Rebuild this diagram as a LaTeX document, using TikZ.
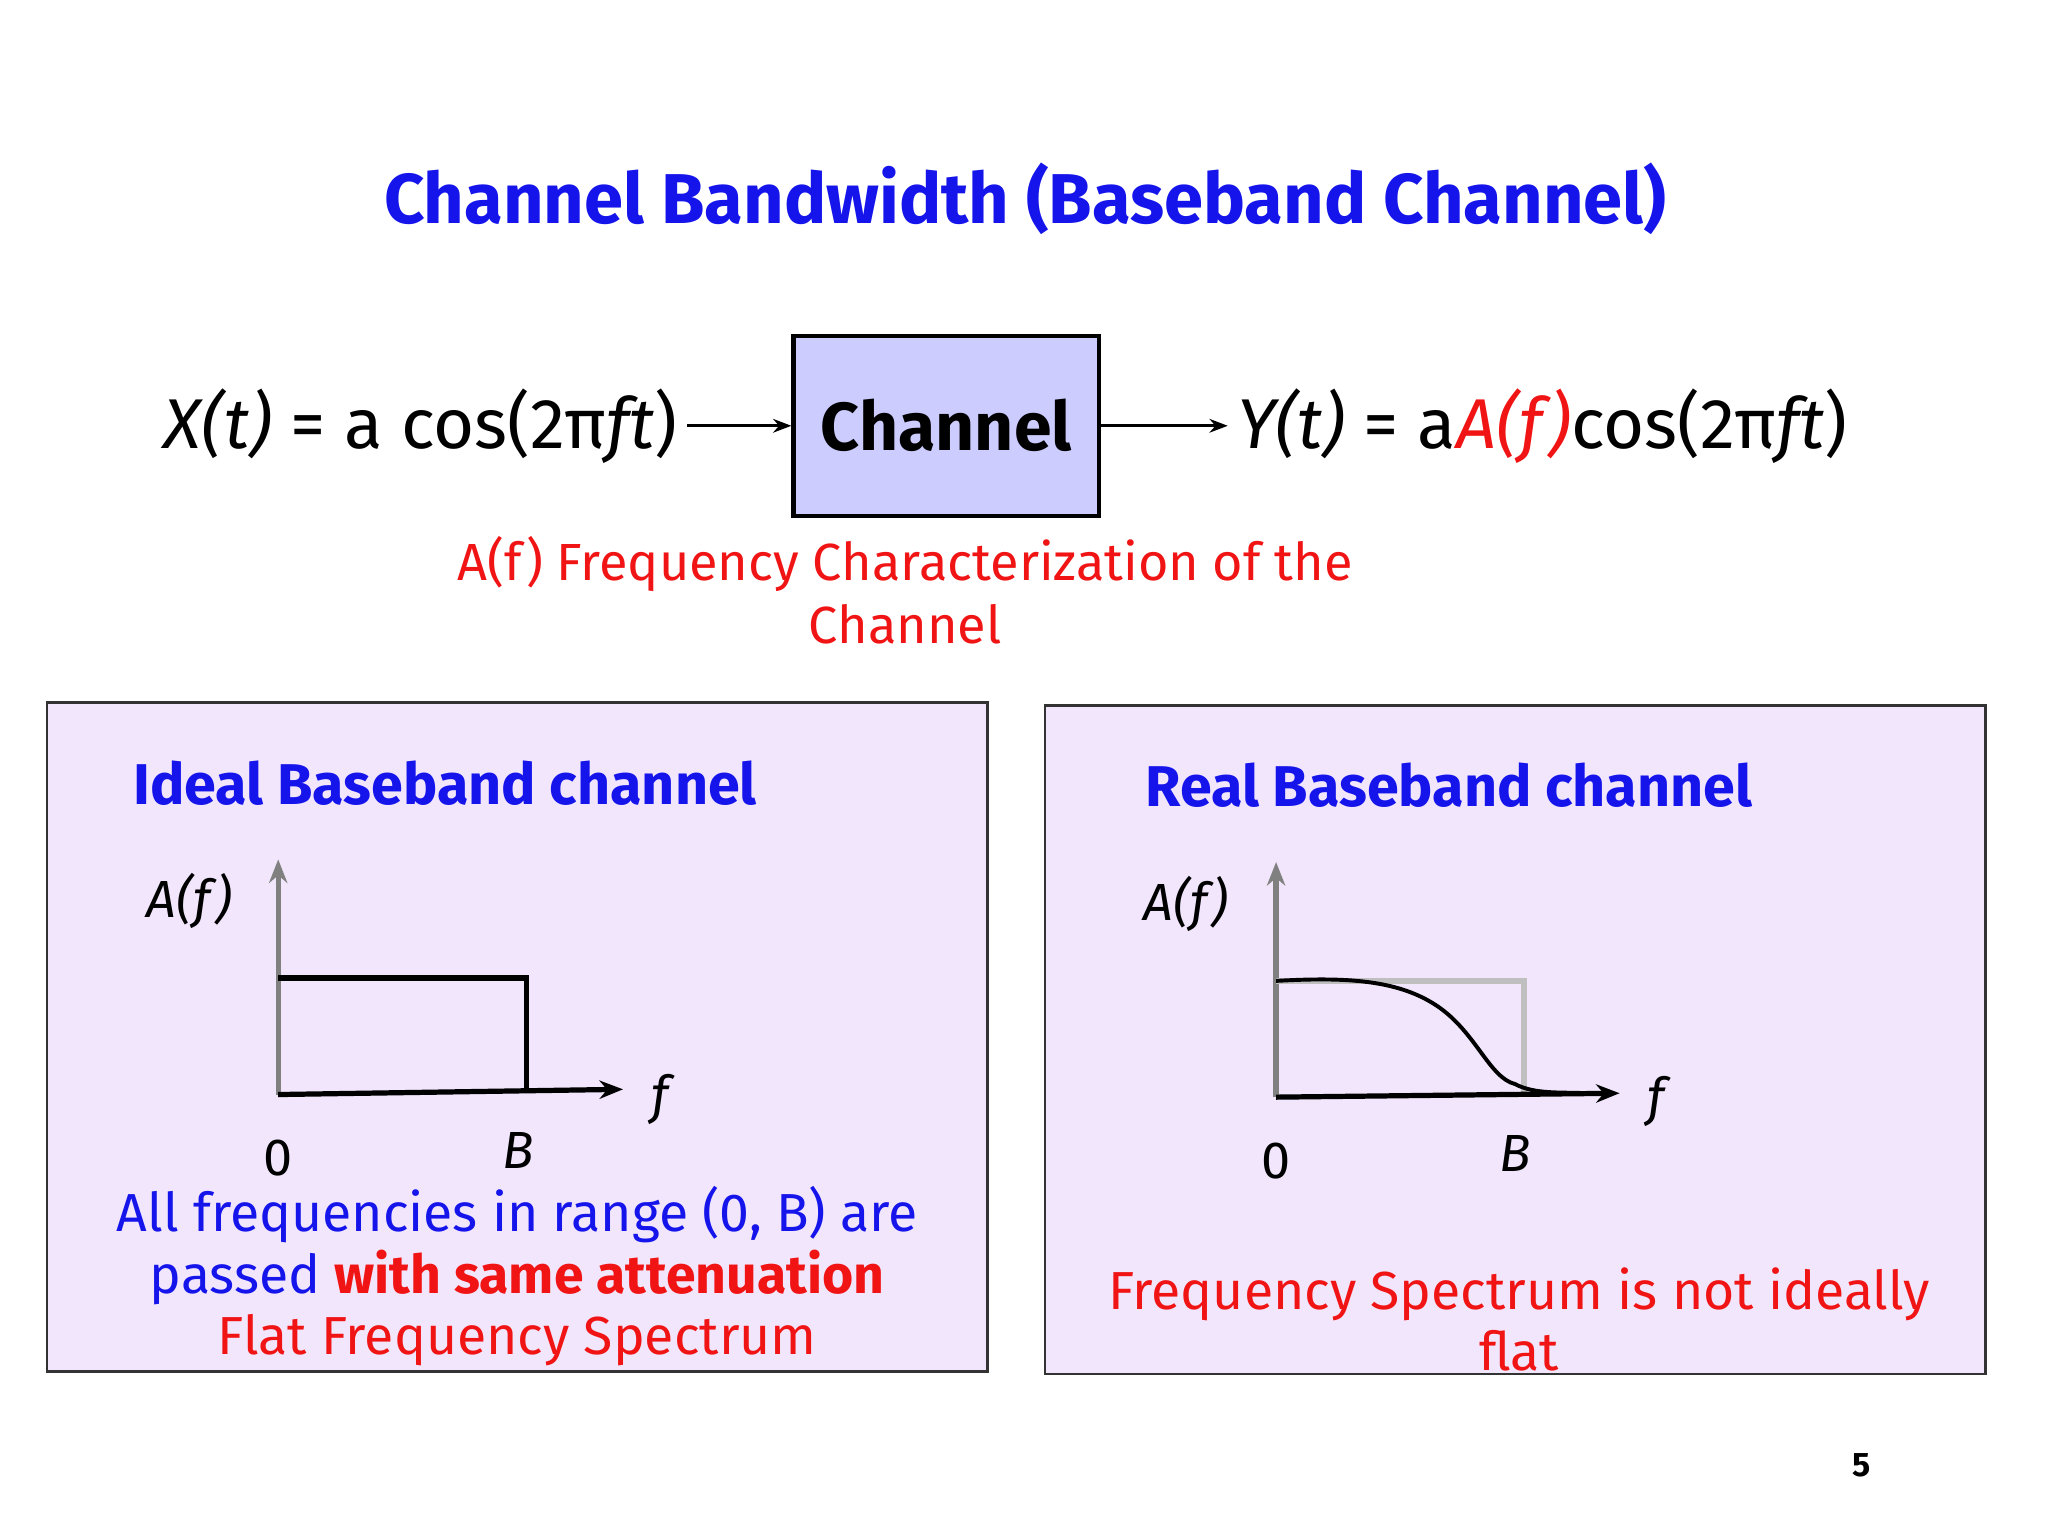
\documentclass[tikz,border=0pt]{standalone}
\usepackage{fontspec}
\setmainfont{Fira Sans}
\usetikzlibrary{arrows.meta}
\definecolor{tblue}{RGB}{20,20,235}
\definecolor{tred}{RGB}{240,20,20}
\definecolor{boxfill}{RGB}{242,230,252}
\definecolor{chfill}{RGB}{204,204,255}
\tikzset{
 panel/.style={draw=black!80,fill=boxfill,line width=1pt},
 ax/.style={line width=2pt,-{Stealth[length=9pt,width=7pt]}},
 lbl/.style={font=\fontsize{20}{24}\selectfont\itshape},
 num/.style={font=\fontsize{20}{24}\selectfont},
 ptitle/.style={text=tblue,font=\fontsize{22}{26}\selectfont\bfseries,anchor=west},
 eq/.style={font=\fontsize{27}{32}\selectfont},
 captxt/.style={font=\fontsize{20}{24}\selectfont,align=center},
}
\begin{document}
\begin{tikzpicture}[x=0.5pt,y=-0.5pt]
\useasboundingbox (0,0) rectangle (1568,1176);
\node[text=tblue,font=\fontsize{27}{32}\selectfont\bfseries] (title) at (785,152) {Channel Bandwidth (Baseband Channel)};
\node[draw,line width=1.6pt,fill=chfill,minimum width=117pt,minimum height=69pt,font=\fontsize{26}{32}\selectfont\bfseries] (ch) at (724.5,326) {Channel};
\node[eq,anchor=east] (x) at (526,326) {\textit{X(t)} = a cos(2π\textit{ft})};
\node[eq,anchor=west] (y) at (940,326) {\textit{Y(t)} = a\textcolor{tred}{\textit{A(f)}}cos(2π\textit{ft})};
\draw[line width=1pt,-{Stealth[length=7pt]}] (x.east) -- (ch.west);
\draw[line width=1pt,-{Stealth[length=7pt]}] (ch.east) -- (y.west);
\node[captxt,text=tred] (capt) at (693,452) {A(f) Frequency Characterization of the\\Channel};
% left panel
\node[panel,minimum width=360pt,minimum height=256pt] (lp) at (396,794) {};
\node[ptitle] (lt) at (95,600) {Ideal Baseband channel};
\coordinate (lo) at (213,838);
\coordinate (ltop) at (213,658);
\coordinate (lend) at (477,834);
\draw[ax,draw=gray] (lo) -- (ltop);
\draw[ax] (lo) -- (lend);
\coordinate (l1) at (213,749); \coordinate (l2) at (403,749); \coordinate (l3) at (403,836);
\draw[line width=2.2pt] (l1) -- (l2) -- (l3);
\node[lbl] (laf) at (145,690) {A(f)};
\node[lbl] (lf) at (505,842) {f};
\node[num] (l0) at (213,887) {0};
\node[lbl] (lB) at (397,881) {B};
\node[captxt,text=tblue,font=\fontsize{20.5}{23.5}\selectfont] (ltx) at (396,977) {All frequencies in range (0, B) are\\passed \textcolor{tred}{\bfseries with same attenuation}\\\textcolor{tred}{Flat Frequency Spectrum}};
% right panel
\node[panel,minimum width=360pt,minimum height=256pt] (rp) at (1160,796) {};
\node[ptitle] (rt) at (870,601) {Real Baseband channel};
\coordinate (ro) at (977,840);
\coordinate (rtop) at (977,660);
\coordinate (rend) at (1240,837);
\draw[ax,draw=gray] (ro) -- (rtop);
\coordinate (r1) at (977,751); \coordinate (r2) at (1167,751); \coordinate (r3) at (1167,838);
\draw[line width=2.2pt,black!25] (r1) -- (r2) -- (r3);
\draw[ax] (ro) -- (rend);
\coordinate (c1) at (1100,770); \coordinate (c2) at (1160,830); \coordinate (c3) at (1215,837);
\draw[line width=1.5pt] (r1) .. controls (1030,748) and (1070,750) .. (c1) .. controls (1130,790) and (1140,825) .. (c2) .. controls (1175,838) and (1195,836) .. (c3);
\node[lbl] (raf) at (908,692) {A(f)};
\node[lbl] (rf) at (1268,843) {f};
\node[num] (r0) at (977,889) {0};
\node[lbl] (rB) at (1160,883) {B};
\node[captxt,text=tred,font=\fontsize{20.5}{23.5}\selectfont] (rtx) at (1163,1010) {Frequency Spectrum is not ideally\\flat};
\node[font=\fontsize{13}{15}\selectfont\bfseries] (pg) at (1425,1122) {5};
\end{tikzpicture}
\end{document}
